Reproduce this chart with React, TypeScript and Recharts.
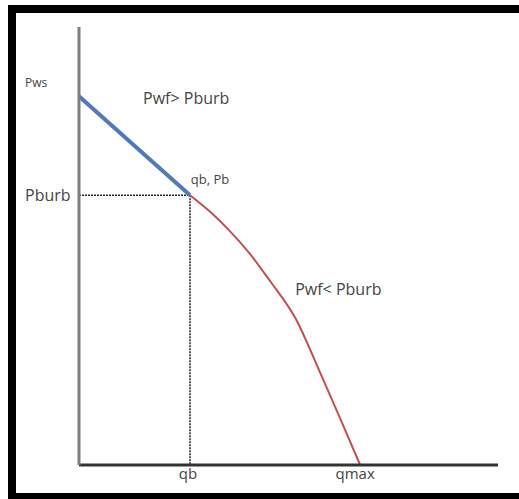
import React from 'react';
import { LineChart, Line, XAxis, YAxis, ReferenceLine, ReferenceDot } from 'recharts';

// Inflow performance: flow rate q (x) vs flowing pressure Pwf (y), arbitrary units 0..100
const qb = 26.5;
const pb = 61.6;
const pws = 84.2;
const qmax = 67.1;

const blueQ = [0, qb];
const blueP = [pws, pb];

const redQ = [qb, 31.3, 36.0, 40.8, 45.6, 51.6, 57.5, 62.3, qmax];
const redP = [pb, 57.8, 53.4, 48.2, 42.0, 33.6, 21.2, 10.7, 0];

const xTicks = [qb, qmax];
const xTickLabels = ['qb', 'qmax'];
const yTicks = [pws, pb];
const yTickLabels = ['Pws', 'Pburb'];

const noteText = ['Pwf> Pburb', 'qb, Pb', 'Pwf< Pburb'];
const noteQ = [15.3, 26.7, 51.6];
const noteP = [83.8, 65.1, 40.0];
const noteSize = [16, 13, 16];

const blueData = blueQ.map((q, i) => ({ q, p: blueP[i] }));
const redData = redQ.map((q, i) => ({ q, p: redP[i] }));

const FONT = '"Open Sans", "Noto Sans", sans-serif';
const TXT = '#444';

const YTick = (props: any) => {
  const { y, payload } = props;
  const idx = yTicks.indexOf(payload.value);
  const label = yTickLabels[idx] ?? '';
  const isPws = label === 'Pws';
  return (
    <text x={25} y={y + (isPws ? -13 : 0)} dy="0.35em" textAnchor="start" fontSize={isPws ? 12 : 16} fill={TXT} fontFamily={FONT}>
      {label}
    </text>
  );
};

const XTick = (props: any) => {
  const { x, payload } = props;
  const idx = xTicks.indexOf(payload.value);
  const label = xTickLabels[idx] ?? '';
  const dx = label === 'qmax' ? -5 : -2;
  return (
    <text x={x + dx} y={474} dy="0.35em" textAnchor="middle" fontSize={15} fill={TXT} fontFamily={FONT}>
      {label}
    </text>
  );
};

const NoteShape = (text: string, size: number) => (props: any) => (
  <text x={props.cx} y={props.cy} dy="0.35em" textAnchor="start" fontSize={size} fill={TXT} fontFamily={FONT}>
    {text}
  </text>
);

export default function App() {
  return (
    <div style={{ position: 'fixed', left: 0, top: 0, width: 519, height: 499, overflow: 'hidden', background: '#fff' }}>
      <div
        style={{
          position: 'absolute',
          left: 8,
          top: 5,
          width: 700,
          height: 496,
          borderTop: '8px solid #000',
          borderLeft: '8px solid #000',
          borderBottom: '8px solid #000',
          boxSizing: 'border-box',
        }}
      />
      <div style={{ position: 'absolute', left: 0, top: 0 }}>
        <LineChart width={519} height={499} margin={{ top: 27, right: 21, bottom: 33, left: 78 }}>
          <XAxis
            type="number"
            dataKey="q"
            domain={[0, 100]}
            ticks={xTicks}
            tick={<XTick />}
            tickLine={false}
            axisLine={{ stroke: '#333', strokeWidth: 3 }}
            height={1}
            allowDataOverflow
            interval={0}
          />
          <YAxis
            type="number"
            dataKey="p"
            domain={[0, 100]}
            ticks={yTicks}
            tick={<YTick />}
            tickLine={false}
            axisLine={{ stroke: '#7f7f7f', strokeWidth: 3 }}
            width={1}
            allowDataOverflow
            interval={0}
          />
          <ReferenceLine
            segment={[{ x: 0, y: pb }, { x: qb, y: pb }]}
            stroke="#222"
            strokeWidth={1.5}
            strokeDasharray="2 1"
            ifOverflow="visible"
          />
          <ReferenceLine
            segment={[{ x: qb, y: pb }, { x: qb, y: 0 }]}
            stroke="#222"
            strokeWidth={1.5}
            strokeDasharray="2 1"
            ifOverflow="visible"
          />
          <Line data={redData} dataKey="p" type="monotone" stroke="#c0504d" strokeWidth={2} dot={false} isAnimationActive={false} />
          <Line data={blueData} dataKey="p" type="linear" stroke="#5479b9" strokeWidth={4} dot={false} isAnimationActive={false} />
          {noteText.map((t, i) => (
            <ReferenceDot key={t} x={noteQ[i]} y={noteP[i]} r={0} shape={NoteShape(t, noteSize[i])} ifOverflow="visible" />
          ))}
        </LineChart>
      </div>
    </div>
  );
}
